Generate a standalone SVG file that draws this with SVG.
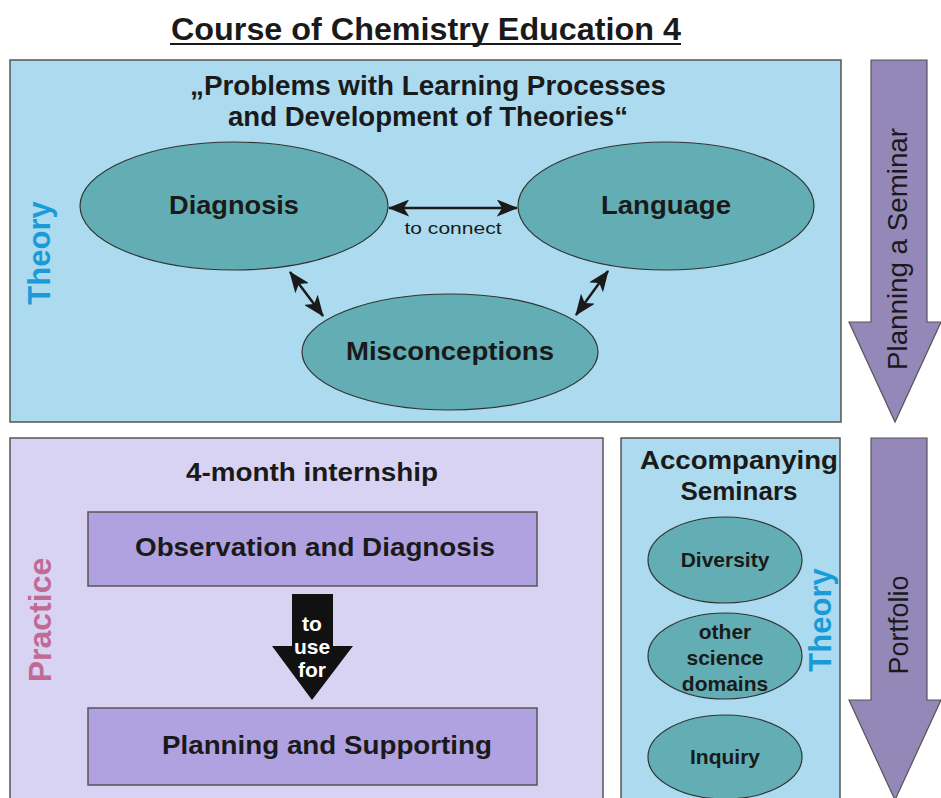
<svg xmlns="http://www.w3.org/2000/svg" width="941" height="798" viewBox="0 0 941 798">
<defs>
<style>
.box{stroke:#555;stroke-width:1.5}
.blue{fill:#acdaef}
.ell{fill:#62aeb4;stroke:#333;stroke-width:1.2}
.rect{fill:#b0a2e0;stroke:#555;stroke-width:1.5}
.bar{fill:#9488b8;stroke:#555;stroke-width:1.2}
.b{font-family:"Liberation Sans",Arial,sans-serif;font-weight:bold;fill:#1a1a1a;text-anchor:middle}
.n{font-family:"Liberation Sans",Arial,sans-serif;fill:#1a1a1a;text-anchor:middle}
.w{font-family:"Liberation Sans",Arial,sans-serif;font-weight:bold;fill:#ffffff;text-anchor:middle}
.side{font-family:"Liberation Sans",Arial,sans-serif;font-weight:bold;text-anchor:middle}
.con{stroke:#1a1a1a;stroke-width:2.5;fill:none;marker-start:url(#ah);marker-end:url(#ah)}
</style>
<marker id="ah" viewBox="0 0 10 8" refX="9.5" refY="4" markerWidth="8.5" markerHeight="6.8" markerUnits="strokeWidth" orient="auto-start-reverse">
<path d="M0,0 L10,4 L0,8 L2.5,4 z" fill="#1a1a1a"/>
</marker>
</defs>
<rect width="941" height="798" fill="#ffffff"/>

<g id="title">
<text class="b" x="426" y="40" font-size="31" textLength="510" lengthAdjust="spacingAndGlyphs">Course of Chemistry Education 4</text>
<line x1="170" y1="44" x2="681" y2="44" stroke="#1a1a1a" stroke-width="2"/>
</g>

<g id="theory-box">
<rect class="box blue" x="10" y="60" width="831" height="362"/>
<text class="b" x="428" y="95" font-size="27" textLength="476" lengthAdjust="spacingAndGlyphs">„Problems with Learning Processes</text>
<text class="b" x="428" y="126" font-size="27" textLength="400" lengthAdjust="spacingAndGlyphs">and Development of Theories“</text>
<text class="side" transform="translate(50,253) rotate(-90)" font-size="31" fill="#1a9bd7">Theory</text>
</g>

<g id="diagnosis">
<ellipse class="ell" cx="234" cy="206" rx="154" ry="64"/>
<text class="b" x="234" y="214" font-size="26" textLength="130" lengthAdjust="spacingAndGlyphs">Diagnosis</text>
</g>
<g id="language">
<ellipse class="ell" cx="666" cy="206" rx="148" ry="64"/>
<text class="b" x="666" y="214" font-size="26" textLength="130" lengthAdjust="spacingAndGlyphs">Language</text>
</g>
<g id="misconceptions">
<ellipse class="ell" cx="450" cy="352" rx="148" ry="58"/>
<text class="b" x="450" y="360" font-size="26" textLength="208" lengthAdjust="spacingAndGlyphs">Misconceptions</text>
</g>

<g id="connectors">
<line class="con" x1="389" y1="208" x2="517" y2="208"/>
<line class="con" x1="290" y1="272" x2="323" y2="316"/>
<line class="con" x1="608" y1="271" x2="576" y2="315"/>
</g>
<text class="n" x="453" y="234" font-size="17" textLength="97" lengthAdjust="spacingAndGlyphs">to connect</text>

<g id="planning-arrow">
<path class="bar" d="M871,60 H927 V322 H941 L895,422 L849,322 H871 Z"/>
<text class="n" transform="translate(907,249) rotate(-90)" font-size="27" textLength="242" lengthAdjust="spacingAndGlyphs">Planning a Seminar</text>
</g>

<g id="practice-box">
<rect class="box" fill="#d8d3f2" x="10" y="438" width="593" height="370"/>
<text class="b" x="312" y="481" font-size="25" textLength="252" lengthAdjust="spacingAndGlyphs">4-month internship</text>
<text class="side" transform="translate(51,620) rotate(-90)" font-size="32" fill="#c06a95">Practice</text>
</g>

<g id="observation">
<rect class="rect" x="88" y="512" width="449" height="74"/>
<text class="b" x="315" y="556" font-size="25" textLength="360" lengthAdjust="spacingAndGlyphs">Observation and Diagnosis</text>
</g>

<g id="use-arrow">
<path d="M292,594 H333 V646 H353 L312,700 L272,646 H292 Z" fill="#111"/>
<text class="w" x="312" y="631" font-size="21">to</text>
<text class="w" x="312" y="654" font-size="21">use</text>
<text class="w" x="312" y="677" font-size="21">for</text>
</g>

<g id="planning-supporting">
<rect class="rect" x="88" y="708" width="449" height="77"/>
<text class="b" x="327" y="754" font-size="25" textLength="330" lengthAdjust="spacingAndGlyphs">Planning and Supporting</text>
</g>

<g id="seminars-box">
<rect class="box blue" x="621" y="438" width="219" height="370"/>
<text class="b" x="739" y="469" font-size="26" textLength="198" lengthAdjust="spacingAndGlyphs">Accompanying</text>
<text class="b" x="739" y="500" font-size="26">Seminars</text>
<text class="side" transform="translate(831,620) rotate(-90)" font-size="31" fill="#1a9bd7">Theory</text>
</g>

<g id="diversity">
<ellipse class="ell" cx="725" cy="560" rx="77" ry="43"/>
<text class="b" x="725" y="567" font-size="21">Diversity</text>
</g>
<g id="other-domains">
<ellipse class="ell" cx="725" cy="656" rx="77" ry="43"/>
<text class="b" x="725" y="639" font-size="21">other</text>
<text class="b" x="725" y="665" font-size="21">science</text>
<text class="b" x="725" y="691" font-size="21">domains</text>
</g>
<g id="inquiry">
<ellipse class="ell" cx="725" cy="757" rx="77" ry="42"/>
<text class="b" x="725" y="764" font-size="21">Inquiry</text>
</g>

<g id="portfolio-arrow">
<path class="bar" d="M871,438 H927 V700 H941 L895,800 L849,700 H871 Z"/>
<text class="n" transform="translate(908,625) rotate(-90)" font-size="27">Portfolio</text>
</g>
</svg>
